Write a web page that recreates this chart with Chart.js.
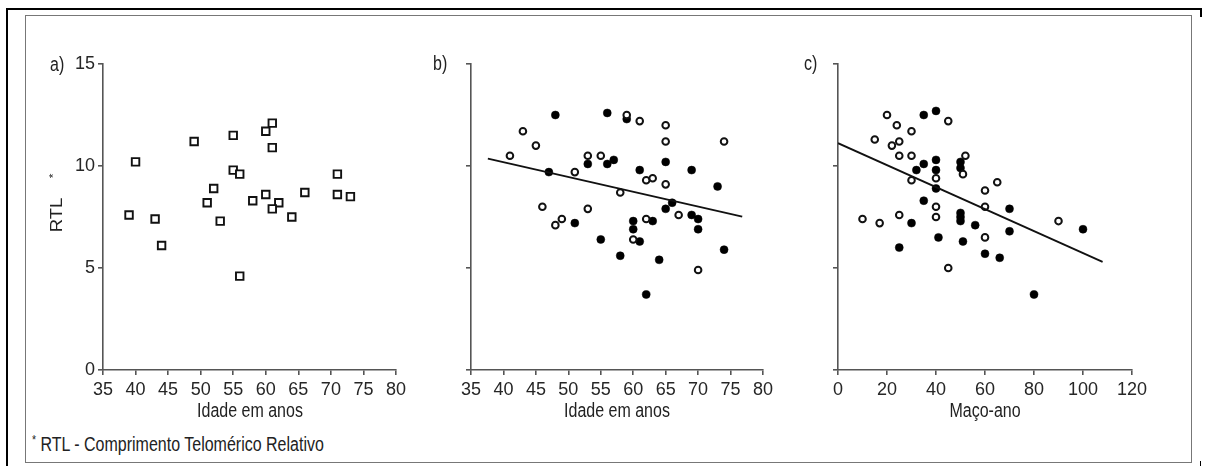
<!DOCTYPE html>
<html>
<head>
<meta charset="utf-8">
<script src="https://cdn.jsdelivr.net/npm/chart.js@4.4.1/dist/chart.umd.min.js"></script>
<style>
  body { margin: 0; width: 1207px; height: 466px; background: #fff; position: relative; overflow: hidden;
         font-family: 'Liberation Sans', Arial, sans-serif; color: #222; }
  .abs { position: absolute; }
  canvas { position: absolute; }
  .lbl { position: absolute; font-size: 20px; line-height: 20px; color: #222; white-space: nowrap;
         transform-origin: 0 50%; transform: scaleX(0.8); }
  .ttl { position: absolute; font-size: 20px; line-height: 20px; color: #222; white-space: nowrap;
         transform: translateX(-50%) scaleX(0.8); }
</style>
</head>
<body>
<div class="abs" style="left:7px;top:8px;width:1195px;border-top:2px solid #000;"></div>
<div class="abs" style="left:6px;top:8px;height:458px;border-left:2px solid #000;"></div>
<div class="abs" style="left:1200px;top:8px;height:9px;border-left:2px solid #000;"></div>
<div class="abs" style="left:1200px;top:461px;height:5px;border-left:1px solid #000;"></div>
<div class="abs" style="left:25px;top:15px;width:1165px;height:446px;border:1.5px solid #777;"></div>

<canvas id="chartA" width="370" height="390" style="left:40px;top:40px;"></canvas>
<canvas id="chartB" width="360" height="390" style="left:420px;top:40px;"></canvas>
<canvas id="chartC" width="370" height="390" style="left:790px;top:40px;"></canvas>

<div class="lbl" style="left:50px;top:54px;">a)</div>
<div class="lbl" style="left:433px;top:53px;">b)</div>
<div class="lbl" style="left:804px;top:53px;">c)</div>
<div class="ttl" style="left:250px;top:400px;">Idade em anos</div>
<div class="ttl" style="left:617px;top:400px;">Idade em anos</div>
<div class="ttl" style="left:985px;top:400px;">Maço-ano</div>
<div class="lbl" style="left:32px;top:430px;"><sup style="font-size:13px;vertical-align:7px;">*</sup> RTL - Comprimento Telomérico Relativo</div>

<script>
// a) idade x RTL
const ageA = [39, 40, 43, 44, 49, 51, 52, 53, 55, 55, 56, 56, 58, 60, 61, 61, 60, 62, 61, 64, 66, 71, 71, 73];
const rtlA = [7.6, 10.2, 7.4, 6.1, 11.2, 8.2, 8.9, 7.3, 11.5, 9.8, 9.6, 4.6, 8.3, 11.7, 12.1, 10.9, 8.6, 8.2, 7.9, 7.5, 8.7, 9.6, 8.6, 8.5];

// b) idade x RTL, abertos e cheios
const ageBOpen = [41, 43, 45, 46, 48, 49, 51, 53, 53, 55, 58, 59, 61, 60, 62, 63, 62, 65, 65, 65, 67, 70, 74];
const rtlBOpen = [10.5, 11.7, 11.0, 8.0, 7.1, 7.4, 9.7, 10.5, 7.9, 10.5, 8.7, 12.5, 12.2, 6.4, 9.3, 9.4, 7.4, 12.0, 11.2, 9.1, 7.6, 4.9, 11.2];
const ageBFull = [48, 47, 51, 53, 55, 56, 56, 57, 58, 59, 61, 60, 60, 61, 62, 63, 64, 65, 65, 66, 69, 69, 70, 70, 73, 74];
const rtlBFull = [12.5, 9.7, 7.2, 10.1, 6.4, 12.6, 10.1, 10.3, 5.6, 12.3, 9.8, 7.3, 6.9, 6.3, 3.7, 7.3, 5.4, 10.2, 7.9, 8.2, 9.8, 7.6, 7.4, 6.9, 9.0, 5.9];
const regBx = [37.6, 76.8];
const regBy = [10.36, 7.52];

// c) maço-ano x RTL
const packCOpen = [10, 15, 17, 20, 22, 24, 25, 25, 25, 30, 30, 30, 40, 40, 40, 45, 45, 51, 52, 60, 60, 60, 65, 90];
const rtlCOpen = [7.4, 11.3, 7.2, 12.5, 11.0, 12.0, 11.2, 10.5, 7.6, 11.7, 10.5, 9.3, 9.4, 8.0, 7.5, 12.2, 5.0, 9.6, 10.5, 8.8, 8.0, 6.5, 9.2, 7.3];
const packCFull = [25, 30, 32, 35, 35, 35, 40, 40, 40, 40, 41, 50, 50, 50, 50, 50, 51, 56, 60, 66, 70, 70, 80, 100];
const rtlCFull = [6.0, 7.2, 9.8, 12.5, 10.1, 8.3, 12.7, 10.3, 9.8, 8.9, 6.5, 9.9, 10.2, 7.7, 7.5, 7.3, 6.3, 7.1, 5.7, 5.5, 7.9, 6.8, 3.7, 6.9];
const regCx = [0, 108];
const regCy = [11.12, 5.30];

const yTicks = [0, 5, 10, 15];

Chart.defaults.font.family = "'Liberation Sans', Arial, sans-serif";
Chart.defaults.color = '#262626';

function pts(xs, ys) {
  return xs.map((x, i) => ({ x: x, y: ys[i] }));
}

const openDot = d => ({ data: d, pointStyle: 'circle', pointRadius: 3.3, borderWidth: 2,
  borderColor: '#111', backgroundColor: '#fff', showLine: false });
const fullDot = d => ({ data: d, pointStyle: 'circle', pointRadius: 4, borderWidth: 0.5,
  borderColor: '#000', backgroundColor: '#000', showLine: false });
const regLine = d => ({ data: d, showLine: true, pointRadius: 0, borderColor: '#111', borderWidth: 1.8, fill: false });

function xAxis(min, max, step) {
  return {
    type: 'linear', min: min, max: max,
    ticks: { stepSize: step, font: { size: 18 }, padding: 4, maxRotation: 0, autoSkip: false },
    grid: { drawOnChartArea: false, tickLength: 5, color: '#555', lineWidth: 1.6 },
    border: { color: '#555', width: 1.6 },
    afterFit: s => { s.height = 51; }
  };
}

function yAxis(width, labels) {
  return {
    type: 'linear', min: 0, max: 15,
    afterBuildTicks: s => { s.ticks = yTicks.map(v => ({ value: v })); },
    ticks: { display: labels, font: { size: 18 }, padding: 3 },
    grid: { drawOnChartArea: false, tickLength: 5, color: '#555', lineWidth: 1.6 },
    border: { color: '#555', width: 1.6 },
    afterFit: s => { s.width = width; }
  };
}

// RTL* vertical title, squeezed like the source
const rtlTitle = {
  id: 'rtlTitle',
  afterDraw(chart) {
    const ctx = chart.ctx;
    ctx.save();
    ctx.translate(18, 175);
    ctx.rotate(-Math.PI / 2);
    ctx.scale(1, 0.85);
    ctx.fillStyle = '#222';
    ctx.font = "18.5px 'Liberation Sans', Arial, sans-serif";
    ctx.textAlign = 'center';
    ctx.textBaseline = 'middle';
    ctx.fillText('RTL', 0, 0);
    ctx.font = "12px 'Liberation Sans', Arial, sans-serif";
    ctx.fillText('*', 39, -4);
    ctx.restore();
  }
};

function makeChart(id, datasets, x, y, pad, plugins) {
  return new Chart(document.getElementById(id), {
    type: 'scatter',
    data: { datasets: datasets },
    options: {
      responsive: false,
      animation: false,
      layout: { padding: pad },
      plugins: { legend: { display: false }, tooltip: { enabled: false } },
      scales: { x: x, y: y }
    },
    plugins: plugins || []
  });
}

makeChart('chartA', [{
    data: pts(ageA, rtlA), pointStyle: 'rect', pointRadius: 5.3, borderWidth: 1.9,
    borderColor: '#111', backgroundColor: '#fff'
  }],
  xAxis(35, 80, 5), yAxis(63, true),
  { left: 0, top: 24, right: 12, bottom: 9 }, [rtlTitle]);

makeChart('chartB', [
    regLine(pts(regBx, regBy)),
    openDot(pts(ageBOpen, rtlBOpen)),
    fullDot(pts(ageBFull, rtlBFull))
  ],
  xAxis(35, 80, 5), yAxis(51, false),
  { left: 0, top: 24, right: 17, bottom: 9 });

makeChart('chartC', [
    regLine(pts(regCx, regCy)),
    openDot(pts(packCOpen, rtlCOpen)),
    fullDot(pts(packCFull, rtlCFull))
  ],
  xAxis(0, 120, 20), yAxis(48, false),
  { left: 0, top: 24, right: 28, bottom: 9 });
</script>
</body>
</html>
